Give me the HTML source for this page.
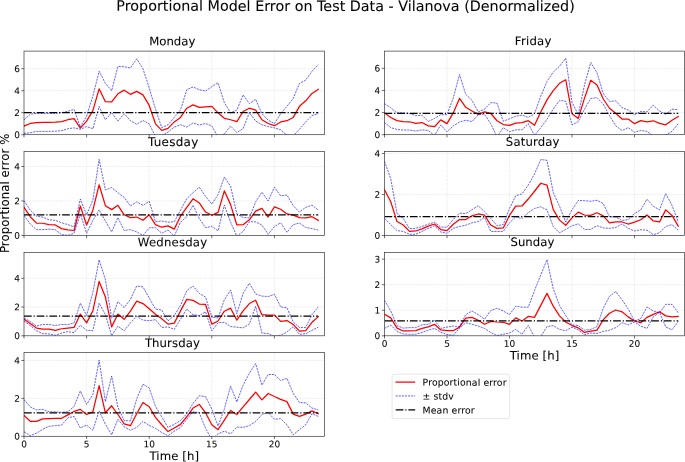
<!DOCTYPE html>
<html lang="en"><head><meta charset="utf-8"><title>Proportional Model Error on Test Data - Vilanova (Denormalized)</title>
<style>html,body{margin:0;padding:0;background:#fff;}svg{display:block}svg text{stroke:#000;stroke-width:0.1px;stroke-opacity:0.6}</style></head>
<body>
<svg width="685" height="462" viewBox="0 0 685 462" font-family="'DejaVu Sans', 'Liberation Sans', sans-serif" fill="#000">
<rect width="685" height="462" fill="#fff" stroke="none"/>
<text transform="matrix(1 0.0006 0 1 345.55 10.95)" font-size="14.3" text-anchor="middle" textLength="458.40" lengthAdjust="spacing">Proportional Model Error on Test Data - Vilanova (Denormalized)</text>
<g>
<clipPath id="c1"><rect x="24.0" y="51.1" width="300.5" height="83.60"/></clipPath>
<line x1="86.60" x2="86.60" y1="51.1" y2="134.7" stroke="#b0b0b0" stroke-opacity="0.42" stroke-width="0.45" stroke-dasharray="2.9 0.55 0.5 0.55"/>
<line x1="149.21" x2="149.21" y1="51.1" y2="134.7" stroke="#b0b0b0" stroke-opacity="0.42" stroke-width="0.45" stroke-dasharray="2.9 0.55 0.5 0.55"/>
<line x1="211.81" x2="211.81" y1="51.1" y2="134.7" stroke="#b0b0b0" stroke-opacity="0.42" stroke-width="0.45" stroke-dasharray="2.9 0.55 0.5 0.55"/>
<line x1="274.42" x2="274.42" y1="51.1" y2="134.7" stroke="#b0b0b0" stroke-opacity="0.42" stroke-width="0.45" stroke-dasharray="2.9 0.55 0.5 0.55"/>
<line x1="24.0" x2="324.5" y1="112.70" y2="112.70" stroke="#b0b0b0" stroke-opacity="0.42" stroke-width="0.45" stroke-dasharray="2.9 0.55 0.5 0.55"/>
<line x1="24.0" x2="324.5" y1="90.70" y2="90.70" stroke="#b0b0b0" stroke-opacity="0.42" stroke-width="0.45" stroke-dasharray="2.9 0.55 0.5 0.55"/>
<line x1="24.0" x2="324.5" y1="68.70" y2="68.70" stroke="#b0b0b0" stroke-opacity="0.42" stroke-width="0.45" stroke-dasharray="2.9 0.55 0.5 0.55"/>
<g clip-path="url(#c1)" fill="none" stroke-linejoin="round">
<polyline points="24.00,126.01 30.26,123.48 36.52,122.60 42.78,122.38 49.04,122.38 55.30,122.16 61.56,121.61 67.82,119.74 74.08,118.64 80.34,128.21 86.60,121.06 92.86,110.61 99.12,88.83 105.39,101.70 111.65,101.92 117.91,93.78 124.17,90.15 130.43,94.33 136.69,91.36 142.95,94.88 149.21,105.44 155.47,123.81 161.73,130.41 167.99,128.43 174.25,121.94 180.51,117.43 186.77,108.19 193.03,104.89 199.29,107.42 205.55,106.87 211.81,106.32 218.07,112.81 224.33,118.31 230.59,119.74 236.85,121.61 243.11,111.49 249.38,108.19 255.64,110.06 261.90,119.74 268.16,123.48 274.42,125.68 280.68,121.94 286.94,120.73 293.20,117.43 299.46,106.32 305.72,100.82 311.98,93.45 318.24,89.38" stroke="#ff0000" stroke-width="1.25" stroke-linecap="square"/>
<polyline points="24.00,119.74 30.26,114.24 36.52,113.36 42.78,113.36 49.04,113.36 55.30,113.36 61.56,112.70 67.82,111.27 74.08,109.40 80.34,127.11 86.60,116.11 92.86,96.20 99.12,71.23 105.39,83.33 111.65,90.70 117.91,66.39 124.17,66.72 130.43,68.04 136.69,58.80 142.95,68.70 149.21,87.95 155.47,109.07 161.73,127.55 167.99,124.80 174.25,117.43 180.51,110.06 186.77,89.71 193.03,86.96 199.29,89.71 205.55,91.03 211.81,86.63 218.07,82.78 224.33,102.69 230.59,112.81 236.85,110.06 243.11,94.88 249.38,103.57 255.64,99.28 261.90,113.69 268.16,120.18 274.42,123.48 280.68,113.69 286.94,106.32 293.20,98.40 299.46,83.44 305.72,80.14 311.98,71.34 318.24,64.52" stroke="#0000ff" stroke-width="0.62" stroke-dasharray="2.15 0.95"/>
<polyline points="24.00,133.38 30.26,132.72 36.52,131.40 42.78,131.40 49.04,131.40 55.30,131.18 61.56,130.63 67.82,128.76 74.08,127.88 80.34,129.31 86.60,126.56 92.86,128.76 99.12,106.54 105.39,119.74 111.65,112.70 117.91,121.06 124.17,113.80 130.43,120.73 136.69,124.25 142.95,120.51 149.21,123.81 155.47,136.68 161.73,135.80 167.99,132.17 174.25,127.11 180.51,124.80 186.77,127.11 193.03,122.93 199.29,125.13 205.55,123.48 211.81,126.01 218.07,136.90 224.33,133.93 230.59,126.01 236.85,132.72 243.11,128.43 249.38,112.70 255.64,121.06 261.90,124.80 268.16,126.56 274.42,127.88 280.68,129.75 286.94,135.25 293.20,135.80 299.46,129.31 305.72,121.94 311.98,115.56 318.24,113.69" stroke="#0000ff" stroke-width="0.62" stroke-dasharray="2.15 0.95"/>
<line x1="24.00" x2="318.24" y1="112.70" y2="112.70" stroke="#000" stroke-width="1.25" stroke-dasharray="7.7 1.9 1.2 1.9"/>
</g>
<rect x="24.0" y="51.1" width="300.5" height="83.60" fill="none" stroke="#000" stroke-opacity="0.82" stroke-width="0.67"/>
<line x1="21.30" x2="24.0" y1="134.70" y2="134.70" stroke="#000" stroke-opacity="0.85" stroke-width="0.67"/>
<text transform="matrix(1 0.0006 0 1 19.95 137.95)" font-size="8.95" text-anchor="end">0</text>
<line x1="21.30" x2="24.0" y1="112.70" y2="112.70" stroke="#000" stroke-opacity="0.85" stroke-width="0.67"/>
<text transform="matrix(1 0.0006 0 1 19.95 115.95)" font-size="8.95" text-anchor="end">2</text>
<line x1="21.30" x2="24.0" y1="90.70" y2="90.70" stroke="#000" stroke-opacity="0.85" stroke-width="0.67"/>
<text transform="matrix(1 0.0006 0 1 19.95 93.95)" font-size="8.95" text-anchor="end">4</text>
<line x1="21.30" x2="24.0" y1="68.70" y2="68.70" stroke="#000" stroke-opacity="0.85" stroke-width="0.67"/>
<text transform="matrix(1 0.0006 0 1 19.95 71.95)" font-size="8.95" text-anchor="end">6</text>
<line x1="24.00" x2="24.00" y1="134.7" y2="137.40" stroke="#000" stroke-opacity="0.85" stroke-width="0.67"/>
<line x1="86.60" x2="86.60" y1="134.7" y2="137.40" stroke="#000" stroke-opacity="0.85" stroke-width="0.67"/>
<line x1="149.21" x2="149.21" y1="134.7" y2="137.40" stroke="#000" stroke-opacity="0.85" stroke-width="0.67"/>
<line x1="211.81" x2="211.81" y1="134.7" y2="137.40" stroke="#000" stroke-opacity="0.85" stroke-width="0.67"/>
<line x1="274.42" x2="274.42" y1="134.7" y2="137.40" stroke="#000" stroke-opacity="0.85" stroke-width="0.67"/>
<text transform="matrix(1 0.0006 0 1 172.25 45.15)" font-size="11.7" text-anchor="middle">Monday</text>
</g>
<g>
<clipPath id="c2"><rect x="24.0" y="151.5" width="300.5" height="84.00"/></clipPath>
<line x1="86.60" x2="86.60" y1="151.5" y2="235.5" stroke="#b0b0b0" stroke-opacity="0.42" stroke-width="0.45" stroke-dasharray="2.9 0.55 0.5 0.55"/>
<line x1="149.21" x2="149.21" y1="151.5" y2="235.5" stroke="#b0b0b0" stroke-opacity="0.42" stroke-width="0.45" stroke-dasharray="2.9 0.55 0.5 0.55"/>
<line x1="211.81" x2="211.81" y1="151.5" y2="235.5" stroke="#b0b0b0" stroke-opacity="0.42" stroke-width="0.45" stroke-dasharray="2.9 0.55 0.5 0.55"/>
<line x1="274.42" x2="274.42" y1="151.5" y2="235.5" stroke="#b0b0b0" stroke-opacity="0.42" stroke-width="0.45" stroke-dasharray="2.9 0.55 0.5 0.55"/>
<line x1="24.0" x2="324.5" y1="201.00" y2="201.00" stroke="#b0b0b0" stroke-opacity="0.42" stroke-width="0.45" stroke-dasharray="2.9 0.55 0.5 0.55"/>
<line x1="24.0" x2="324.5" y1="166.51" y2="166.51" stroke="#b0b0b0" stroke-opacity="0.42" stroke-width="0.45" stroke-dasharray="2.9 0.55 0.5 0.55"/>
<g clip-path="url(#c2)" fill="none" stroke-linejoin="round">
<polyline points="24.00,207.39 30.26,216.70 36.52,223.08 42.78,223.25 49.04,224.63 55.30,224.98 61.56,228.60 67.82,229.81 74.08,230.50 80.34,206.01 86.60,224.98 92.86,210.14 99.12,184.79 105.39,205.66 111.65,209.63 117.91,205.32 124.17,214.80 130.43,217.56 136.69,217.04 142.95,220.32 149.21,214.80 155.47,224.63 161.73,227.22 167.99,225.84 174.25,229.12 180.51,216.18 186.77,207.39 193.03,198.76 199.29,202.90 205.55,212.04 211.81,215.32 218.07,212.39 224.33,190.83 230.59,204.63 236.85,224.98 243.11,224.63 249.38,219.80 255.64,211.18 261.90,208.42 268.16,217.04 274.42,206.87 280.68,209.28 286.94,213.94 293.20,215.15 299.46,217.56 305.72,217.91 311.98,216.70 318.24,220.32" stroke="#ff0000" stroke-width="1.25" stroke-linecap="square"/>
<polyline points="24.00,200.66 30.26,210.14 36.52,216.18 42.78,217.22 49.04,219.80 55.30,220.32 61.56,222.74 67.82,224.63 74.08,226.88 80.34,199.11 86.60,214.80 92.86,200.14 99.12,159.43 105.39,189.96 111.65,187.55 117.91,192.72 124.17,197.38 130.43,206.01 136.69,201.87 142.95,205.32 149.21,201.35 155.47,221.70 161.73,221.01 167.99,222.22 174.25,221.70 180.51,210.14 186.77,198.76 193.03,192.72 199.29,187.20 205.55,196.35 211.81,204.11 218.07,194.62 224.33,177.03 230.59,186.17 236.85,213.94 243.11,217.56 249.38,217.91 255.64,201.87 261.90,192.21 268.16,201.00 274.42,187.20 280.68,195.83 286.94,194.97 293.20,205.66 299.46,212.04 305.72,207.39 311.98,205.14 318.24,210.14" stroke="#0000ff" stroke-width="0.62" stroke-dasharray="2.15 0.95"/>
<polyline points="24.00,215.32 30.26,224.12 36.52,229.64 42.78,229.64 49.04,229.12 55.30,229.64 61.56,234.64 67.82,235.33 74.08,233.26 80.34,213.94 86.60,233.26 92.86,220.32 99.12,209.80 105.39,221.01 111.65,231.88 117.91,217.56 124.17,230.50 130.43,229.64 136.69,231.88 142.95,235.50 149.21,227.74 155.47,227.74 161.73,233.26 167.99,229.98 174.25,236.02 180.51,222.22 186.77,216.70 193.03,205.14 199.29,218.60 205.55,227.74 211.81,226.36 218.07,230.84 224.33,205.14 230.59,222.22 236.85,236.36 243.11,231.36 249.38,221.70 255.64,221.87 261.90,224.98 268.16,234.29 274.42,226.53 280.68,222.74 286.94,232.40 293.20,224.63 299.46,223.08 305.72,227.39 311.98,228.60 318.24,230.15" stroke="#0000ff" stroke-width="0.62" stroke-dasharray="2.15 0.95"/>
<line x1="24.00" x2="318.24" y1="214.80" y2="214.80" stroke="#000" stroke-width="1.25" stroke-dasharray="7.7 1.9 1.2 1.9"/>
</g>
<rect x="24.0" y="151.5" width="300.5" height="84.00" fill="none" stroke="#000" stroke-opacity="0.82" stroke-width="0.67"/>
<line x1="21.30" x2="24.0" y1="235.50" y2="235.50" stroke="#000" stroke-opacity="0.85" stroke-width="0.67"/>
<text transform="matrix(1 0.0006 0 1 19.95 238.75)" font-size="8.95" text-anchor="end">0</text>
<line x1="21.30" x2="24.0" y1="201.00" y2="201.00" stroke="#000" stroke-opacity="0.85" stroke-width="0.67"/>
<text transform="matrix(1 0.0006 0 1 19.95 204.25)" font-size="8.95" text-anchor="end">2</text>
<line x1="21.30" x2="24.0" y1="166.51" y2="166.51" stroke="#000" stroke-opacity="0.85" stroke-width="0.67"/>
<text transform="matrix(1 0.0006 0 1 19.95 169.76)" font-size="8.95" text-anchor="end">4</text>
<line x1="24.00" x2="24.00" y1="235.5" y2="238.20" stroke="#000" stroke-opacity="0.85" stroke-width="0.67"/>
<line x1="86.60" x2="86.60" y1="235.5" y2="238.20" stroke="#000" stroke-opacity="0.85" stroke-width="0.67"/>
<line x1="149.21" x2="149.21" y1="235.5" y2="238.20" stroke="#000" stroke-opacity="0.85" stroke-width="0.67"/>
<line x1="211.81" x2="211.81" y1="235.5" y2="238.20" stroke="#000" stroke-opacity="0.85" stroke-width="0.67"/>
<line x1="274.42" x2="274.42" y1="235.5" y2="238.20" stroke="#000" stroke-opacity="0.85" stroke-width="0.67"/>
<text transform="matrix(1 0.0006 0 1 173.15 145.90)" font-size="12.0" text-anchor="middle" textLength="50.33" lengthAdjust="spacing">Tuesday</text>
</g>
<g>
<clipPath id="c3"><rect x="24.0" y="252.5" width="300.5" height="83.30"/></clipPath>
<line x1="86.60" x2="86.60" y1="252.5" y2="335.8" stroke="#b0b0b0" stroke-opacity="0.42" stroke-width="0.45" stroke-dasharray="2.9 0.55 0.5 0.55"/>
<line x1="149.21" x2="149.21" y1="252.5" y2="335.8" stroke="#b0b0b0" stroke-opacity="0.42" stroke-width="0.45" stroke-dasharray="2.9 0.55 0.5 0.55"/>
<line x1="211.81" x2="211.81" y1="252.5" y2="335.8" stroke="#b0b0b0" stroke-opacity="0.42" stroke-width="0.45" stroke-dasharray="2.9 0.55 0.5 0.55"/>
<line x1="274.42" x2="274.42" y1="252.5" y2="335.8" stroke="#b0b0b0" stroke-opacity="0.42" stroke-width="0.45" stroke-dasharray="2.9 0.55 0.5 0.55"/>
<line x1="24.0" x2="324.5" y1="307.03" y2="307.03" stroke="#b0b0b0" stroke-opacity="0.42" stroke-width="0.45" stroke-dasharray="2.9 0.55 0.5 0.55"/>
<line x1="24.0" x2="324.5" y1="278.25" y2="278.25" stroke="#b0b0b0" stroke-opacity="0.42" stroke-width="0.45" stroke-dasharray="2.9 0.55 0.5 0.55"/>
<g clip-path="url(#c3)" fill="none" stroke-linejoin="round">
<polyline points="24.00,319.26 30.26,323.43 36.52,328.03 42.78,329.04 49.04,329.04 55.30,330.33 61.56,328.75 67.82,328.03 74.08,327.46 80.34,314.08 86.60,322.85 92.86,310.91 99.12,281.42 105.39,297.10 111.65,326.88 117.91,314.08 124.17,319.26 130.43,311.20 136.69,301.13 142.95,303.57 149.21,308.75 155.47,314.22 161.73,318.68 167.99,324.15 174.25,323.14 180.51,310.91 186.77,299.40 193.03,300.41 199.29,304.01 205.55,304.44 211.81,324.15 218.07,320.98 224.33,311.20 230.59,308.18 236.85,320.12 243.11,310.91 249.38,303.57 255.64,300.26 261.90,314.65 268.16,315.08 274.42,315.08 280.68,321.41 286.94,320.55 293.20,324.43 299.46,331.20 305.72,330.62 311.98,322.28 318.24,316.81" stroke="#ff0000" stroke-width="1.25" stroke-linecap="square"/>
<polyline points="24.00,317.96 30.26,321.56 36.52,326.16 42.78,324.43 49.04,324.43 55.30,325.59 61.56,324.43 67.82,324.72 74.08,322.85 80.34,303.14 86.60,315.51 92.86,292.50 99.12,259.84 105.39,279.55 111.65,318.25 117.91,301.70 124.17,307.60 130.43,299.40 136.69,286.02 142.95,286.88 149.21,297.96 155.47,309.04 161.73,310.05 167.99,320.98 174.25,315.51 180.51,305.30 186.77,290.63 193.03,286.02 199.29,293.36 205.55,297.10 211.81,317.38 218.07,317.96 224.33,299.83 230.59,290.05 236.85,313.64 243.11,293.36 249.38,283.29 255.64,293.93 261.90,296.09 268.16,296.52 274.42,294.37 280.68,306.88 286.94,307.75 293.20,321.99 299.46,327.46 305.72,327.46 311.98,314.65 318.24,306.88" stroke="#0000ff" stroke-width="0.62" stroke-dasharray="2.15 0.95"/>
<polyline points="24.00,320.98 30.26,325.59 36.52,330.76 42.78,333.64 49.04,333.93 55.30,335.22 61.56,333.07 67.82,331.63 74.08,332.63 80.34,325.15 86.60,330.33 92.86,330.62 99.12,303.14 105.39,314.65 111.65,335.80 117.91,326.16 124.17,330.76 130.43,322.85 136.69,316.38 142.95,320.12 149.21,320.69 155.47,319.69 161.73,327.46 167.99,326.88 174.25,329.33 180.51,319.26 186.77,309.04 193.03,314.65 199.29,315.51 205.55,311.77 211.81,330.76 218.07,322.85 224.33,322.28 230.59,326.59 236.85,327.17 243.11,327.89 249.38,324.15 255.64,306.31 261.90,333.07 268.16,333.64 274.42,336.23 280.68,335.22 286.94,332.06 293.20,326.59 299.46,334.36 305.72,333.64 311.98,330.33 318.24,327.17" stroke="#0000ff" stroke-width="0.62" stroke-dasharray="2.15 0.95"/>
<line x1="24.00" x2="318.24" y1="316.23" y2="316.23" stroke="#000" stroke-width="1.25" stroke-dasharray="7.7 1.9 1.2 1.9"/>
</g>
<rect x="24.0" y="252.5" width="300.5" height="83.30" fill="none" stroke="#000" stroke-opacity="0.82" stroke-width="0.67"/>
<line x1="21.30" x2="24.0" y1="335.80" y2="335.80" stroke="#000" stroke-opacity="0.85" stroke-width="0.67"/>
<text transform="matrix(1 0.0006 0 1 19.95 339.05)" font-size="8.95" text-anchor="end">0</text>
<line x1="21.30" x2="24.0" y1="307.03" y2="307.03" stroke="#000" stroke-opacity="0.85" stroke-width="0.67"/>
<text transform="matrix(1 0.0006 0 1 19.95 310.28)" font-size="8.95" text-anchor="end">2</text>
<line x1="21.30" x2="24.0" y1="278.25" y2="278.25" stroke="#000" stroke-opacity="0.85" stroke-width="0.67"/>
<text transform="matrix(1 0.0006 0 1 19.95 281.50)" font-size="8.95" text-anchor="end">4</text>
<line x1="24.00" x2="24.00" y1="335.8" y2="338.50" stroke="#000" stroke-opacity="0.85" stroke-width="0.67"/>
<line x1="86.60" x2="86.60" y1="335.8" y2="338.50" stroke="#000" stroke-opacity="0.85" stroke-width="0.67"/>
<line x1="149.21" x2="149.21" y1="335.8" y2="338.50" stroke="#000" stroke-opacity="0.85" stroke-width="0.67"/>
<line x1="211.81" x2="211.81" y1="335.8" y2="338.50" stroke="#000" stroke-opacity="0.85" stroke-width="0.67"/>
<line x1="274.42" x2="274.42" y1="335.8" y2="338.50" stroke="#000" stroke-opacity="0.85" stroke-width="0.67"/>
<text transform="matrix(1 0.0006 0 1 172.45 246.30)" font-size="11.7" text-anchor="middle" textLength="69.27" lengthAdjust="spacing">Wednesday</text>
</g>
<g>
<clipPath id="c4"><rect x="24.0" y="352.5" width="300.5" height="83.80"/></clipPath>
<line x1="86.60" x2="86.60" y1="352.5" y2="436.3" stroke="#b0b0b0" stroke-opacity="0.42" stroke-width="0.45" stroke-dasharray="2.9 0.55 0.5 0.55"/>
<line x1="149.21" x2="149.21" y1="352.5" y2="436.3" stroke="#b0b0b0" stroke-opacity="0.42" stroke-width="0.45" stroke-dasharray="2.9 0.55 0.5 0.55"/>
<line x1="211.81" x2="211.81" y1="352.5" y2="436.3" stroke="#b0b0b0" stroke-opacity="0.42" stroke-width="0.45" stroke-dasharray="2.9 0.55 0.5 0.55"/>
<line x1="274.42" x2="274.42" y1="352.5" y2="436.3" stroke="#b0b0b0" stroke-opacity="0.42" stroke-width="0.45" stroke-dasharray="2.9 0.55 0.5 0.55"/>
<line x1="24.0" x2="324.5" y1="398.38" y2="398.38" stroke="#b0b0b0" stroke-opacity="0.42" stroke-width="0.45" stroke-dasharray="2.9 0.55 0.5 0.55"/>
<line x1="24.0" x2="324.5" y1="360.46" y2="360.46" stroke="#b0b0b0" stroke-opacity="0.42" stroke-width="0.45" stroke-dasharray="2.9 0.55 0.5 0.55"/>
<g clip-path="url(#c4)" fill="none" stroke-linejoin="round">
<polyline points="24.00,415.44 30.26,421.32 36.52,421.32 42.78,418.86 49.04,418.67 55.30,418.48 61.56,418.29 67.82,414.88 74.08,411.46 80.34,409.38 86.60,414.50 92.86,411.84 99.12,385.68 105.39,412.79 111.65,405.78 117.91,414.50 124.17,423.79 130.43,425.68 136.69,413.74 142.95,402.55 149.21,406.72 155.47,417.34 161.73,424.73 167.99,431.56 174.25,427.96 180.51,424.36 186.77,416.77 193.03,408.05 199.29,404.45 205.55,412.79 211.81,424.73 218.07,429.66 224.33,420.18 230.59,410.52 236.85,414.50 243.11,406.91 249.38,399.52 255.64,392.12 261.90,399.90 268.16,393.45 274.42,396.49 280.68,399.33 286.94,401.60 293.20,414.12 299.46,416.39 305.72,414.12 311.98,410.89 318.24,413.74" stroke="#ff0000" stroke-width="1.25" stroke-linecap="square"/>
<polyline points="24.00,399.52 30.26,406.91 36.52,409.95 42.78,409.38 49.04,411.84 55.30,411.84 61.56,412.41 67.82,411.84 74.08,406.34 80.34,390.99 86.60,404.45 92.86,394.40 99.12,360.27 105.39,401.60 111.65,376.01 117.91,407.29 124.17,420.56 130.43,420.94 136.69,398.95 142.95,384.16 149.21,387.95 155.47,406.34 161.73,416.77 167.99,427.39 174.25,424.36 180.51,420.56 186.77,413.74 193.03,403.50 199.29,395.73 205.55,396.68 211.81,409.00 218.07,426.06 224.33,409.00 230.59,386.06 236.85,401.98 243.11,385.11 249.38,373.17 255.64,363.50 261.90,385.11 268.16,374.49 274.42,374.49 280.68,380.56 286.94,378.28 293.20,393.45 299.46,402.55 305.72,402.93 311.98,408.05 318.24,409.95" stroke="#0000ff" stroke-width="0.62" stroke-dasharray="2.15 0.95"/>
<polyline points="24.00,431.75 30.26,435.73 36.52,433.08 42.78,429.29 49.04,426.25 55.30,425.68 61.56,425.11 67.82,417.91 74.08,416.39 80.34,427.96 86.60,425.11 92.86,430.23 99.12,410.89 105.39,424.17 111.65,434.78 117.91,419.24 124.17,426.82 130.43,430.23 136.69,427.39 142.95,421.51 149.21,425.30 155.47,428.34 161.73,432.51 167.99,435.73 174.25,431.18 180.51,427.39 186.77,419.24 193.03,411.84 199.29,412.79 205.55,428.34 211.81,439.52 218.07,433.84 224.33,431.18 230.59,433.84 236.85,427.01 243.11,427.39 249.38,425.68 255.64,421.51 261.90,414.50 268.16,412.41 274.42,419.24 280.68,418.67 286.94,424.73 293.20,434.78 299.46,429.66 305.72,424.73 311.98,413.74 318.24,416.39" stroke="#0000ff" stroke-width="0.62" stroke-dasharray="2.15 0.95"/>
<line x1="24.00" x2="318.24" y1="412.79" y2="412.79" stroke="#000" stroke-width="1.25" stroke-dasharray="7.7 1.9 1.2 1.9"/>
</g>
<rect x="24.0" y="352.5" width="300.5" height="83.80" fill="none" stroke="#000" stroke-opacity="0.82" stroke-width="0.67"/>
<line x1="21.30" x2="24.0" y1="436.30" y2="436.30" stroke="#000" stroke-opacity="0.85" stroke-width="0.67"/>
<text transform="matrix(1 0.0006 0 1 19.95 439.55)" font-size="8.95" text-anchor="end">0</text>
<line x1="21.30" x2="24.0" y1="398.38" y2="398.38" stroke="#000" stroke-opacity="0.85" stroke-width="0.67"/>
<text transform="matrix(1 0.0006 0 1 19.95 401.63)" font-size="8.95" text-anchor="end">2</text>
<line x1="21.30" x2="24.0" y1="360.46" y2="360.46" stroke="#000" stroke-opacity="0.85" stroke-width="0.67"/>
<text transform="matrix(1 0.0006 0 1 19.95 363.71)" font-size="8.95" text-anchor="end">4</text>
<line x1="24.00" x2="24.00" y1="436.3" y2="439.00" stroke="#000" stroke-opacity="0.85" stroke-width="0.67"/>
<line x1="86.60" x2="86.60" y1="436.3" y2="439.00" stroke="#000" stroke-opacity="0.85" stroke-width="0.67"/>
<line x1="149.21" x2="149.21" y1="436.3" y2="439.00" stroke="#000" stroke-opacity="0.85" stroke-width="0.67"/>
<line x1="211.81" x2="211.81" y1="436.3" y2="439.00" stroke="#000" stroke-opacity="0.85" stroke-width="0.67"/>
<line x1="274.42" x2="274.42" y1="436.3" y2="439.00" stroke="#000" stroke-opacity="0.85" stroke-width="0.67"/>
<text transform="matrix(1 0.0006 0 1 24.00 447.25)" font-size="8.95" text-anchor="middle">0</text>
<text transform="matrix(1 0.0006 0 1 86.60 447.25)" font-size="8.95" text-anchor="middle">5</text>
<text transform="matrix(1 0.0006 0 1 149.21 447.25)" font-size="8.95" text-anchor="middle">10</text>
<text transform="matrix(1 0.0006 0 1 211.81 447.25)" font-size="8.95" text-anchor="middle">15</text>
<text transform="matrix(1 0.0006 0 1 274.42 447.25)" font-size="8.95" text-anchor="middle">20</text>
<text transform="matrix(1 0.0006 0 1 174.25 460.05)" font-size="11.7" text-anchor="middle" textLength="49.66" lengthAdjust="spacing">Time [h]</text>
<text transform="matrix(1 0.0006 0 1 172.35 346.95)" font-size="11.7" text-anchor="middle" textLength="54.96" lengthAdjust="spacing">Thursday</text>
</g>
<g>
<clipPath id="c5"><rect x="384.5" y="51.1" width="300.0" height="83.60"/></clipPath>
<line x1="447.00" x2="447.00" y1="51.1" y2="134.7" stroke="#b0b0b0" stroke-opacity="0.42" stroke-width="0.45" stroke-dasharray="2.9 0.55 0.5 0.55"/>
<line x1="509.50" x2="509.50" y1="51.1" y2="134.7" stroke="#b0b0b0" stroke-opacity="0.42" stroke-width="0.45" stroke-dasharray="2.9 0.55 0.5 0.55"/>
<line x1="572.00" x2="572.00" y1="51.1" y2="134.7" stroke="#b0b0b0" stroke-opacity="0.42" stroke-width="0.45" stroke-dasharray="2.9 0.55 0.5 0.55"/>
<line x1="634.50" x2="634.50" y1="51.1" y2="134.7" stroke="#b0b0b0" stroke-opacity="0.42" stroke-width="0.45" stroke-dasharray="2.9 0.55 0.5 0.55"/>
<line x1="384.5" x2="684.5" y1="112.58" y2="112.58" stroke="#b0b0b0" stroke-opacity="0.42" stroke-width="0.45" stroke-dasharray="2.9 0.55 0.5 0.55"/>
<line x1="384.5" x2="684.5" y1="90.47" y2="90.47" stroke="#b0b0b0" stroke-opacity="0.42" stroke-width="0.45" stroke-dasharray="2.9 0.55 0.5 0.55"/>
<line x1="384.5" x2="684.5" y1="68.35" y2="68.35" stroke="#b0b0b0" stroke-opacity="0.42" stroke-width="0.45" stroke-dasharray="2.9 0.55 0.5 0.55"/>
<g clip-path="url(#c5)" fill="none" stroke-linejoin="round">
<polyline points="384.50,112.92 390.75,117.45 397.00,120.66 403.25,121.54 409.50,121.76 415.75,123.42 422.00,122.54 428.25,125.85 434.50,126.74 440.75,119.88 447.00,123.64 453.25,112.92 459.50,98.43 465.75,107.28 472.00,111.04 478.25,114.35 484.50,111.92 490.75,113.47 497.00,120.77 503.25,124.53 509.50,125.30 515.75,123.09 522.00,122.65 528.25,120.66 534.50,125.30 540.75,111.92 547.00,99.87 553.25,90.69 559.50,83.28 565.75,79.74 572.00,113.80 578.25,118.44 584.50,98.10 590.75,80.29 597.00,85.05 603.25,98.98 609.50,108.27 615.75,113.25 622.00,119.00 628.25,119.00 634.50,123.64 640.75,120.66 647.00,121.76 653.25,120.77 659.50,123.42 665.75,124.86 672.00,120.21 678.25,116.56" stroke="#ff0000" stroke-width="1.25" stroke-linecap="square"/>
<polyline points="384.50,103.63 390.75,107.72 397.00,112.92 403.25,112.92 409.50,113.47 415.75,115.68 422.00,115.24 428.25,121.54 434.50,118.44 440.75,114.68 447.00,114.68 453.25,98.10 459.50,74.54 465.75,94.34 472.00,100.31 478.25,111.92 484.50,109.16 490.75,102.63 497.00,103.07 503.25,121.21 509.50,118.78 515.75,116.23 522.00,115.13 528.25,117.45 534.50,113.80 540.75,96.22 547.00,81.40 553.25,72.11 559.50,66.25 565.75,58.29 572.00,102.30 578.25,114.68 584.50,85.05 590.75,62.49 597.00,72.77 603.25,93.45 609.50,101.41 615.75,100.86 622.00,107.72 628.25,110.04 634.50,114.68 640.75,111.37 647.00,111.92 653.25,105.06 659.50,111.04 665.75,114.35 672.00,109.16 678.25,109.71" stroke="#0000ff" stroke-width="0.62" stroke-dasharray="2.15 0.95"/>
<polyline points="384.50,122.54 390.75,127.62 397.00,129.50 403.25,130.06 409.50,130.06 415.75,131.05 422.00,129.83 428.25,130.50 434.50,135.47 440.75,124.86 447.00,131.94 453.25,125.85 459.50,122.09 465.75,120.21 472.00,121.54 478.25,114.68 484.50,114.13 490.75,123.64 497.00,136.91 503.25,127.62 509.50,131.71 515.75,129.83 522.00,129.83 528.25,123.64 534.50,135.47 540.75,127.62 547.00,119.33 553.25,109.16 559.50,100.42 565.75,101.19 572.00,124.86 578.25,121.76 584.50,109.16 590.75,98.43 597.00,97.66 603.25,104.07 609.50,115.68 615.75,125.85 622.00,130.50 628.25,127.62 634.50,132.27 640.75,130.50 647.00,131.38 653.25,136.03 659.50,136.91 665.75,135.03 672.00,131.38 678.25,123.64" stroke="#0000ff" stroke-width="0.62" stroke-dasharray="2.15 0.95"/>
<line x1="384.50" x2="678.25" y1="113.36" y2="113.36" stroke="#000" stroke-width="1.25" stroke-dasharray="7.7 1.9 1.2 1.9"/>
</g>
<rect x="384.5" y="51.1" width="300.0" height="83.60" fill="none" stroke="#000" stroke-opacity="0.82" stroke-width="0.67"/>
<line x1="381.80" x2="384.5" y1="134.70" y2="134.70" stroke="#000" stroke-opacity="0.85" stroke-width="0.67"/>
<text transform="matrix(1 0.0006 0 1 380.30 137.95)" font-size="8.95" text-anchor="end">0</text>
<line x1="381.80" x2="384.5" y1="112.58" y2="112.58" stroke="#000" stroke-opacity="0.85" stroke-width="0.67"/>
<text transform="matrix(1 0.0006 0 1 380.30 115.83)" font-size="8.95" text-anchor="end">2</text>
<line x1="381.80" x2="384.5" y1="90.47" y2="90.47" stroke="#000" stroke-opacity="0.85" stroke-width="0.67"/>
<text transform="matrix(1 0.0006 0 1 380.30 93.72)" font-size="8.95" text-anchor="end">4</text>
<line x1="381.80" x2="384.5" y1="68.35" y2="68.35" stroke="#000" stroke-opacity="0.85" stroke-width="0.67"/>
<text transform="matrix(1 0.0006 0 1 380.30 71.60)" font-size="8.95" text-anchor="end">6</text>
<line x1="384.50" x2="384.50" y1="134.7" y2="137.40" stroke="#000" stroke-opacity="0.85" stroke-width="0.67"/>
<line x1="447.00" x2="447.00" y1="134.7" y2="137.40" stroke="#000" stroke-opacity="0.85" stroke-width="0.67"/>
<line x1="509.50" x2="509.50" y1="134.7" y2="137.40" stroke="#000" stroke-opacity="0.85" stroke-width="0.67"/>
<line x1="572.00" x2="572.00" y1="134.7" y2="137.40" stroke="#000" stroke-opacity="0.85" stroke-width="0.67"/>
<line x1="634.50" x2="634.50" y1="134.7" y2="137.40" stroke="#000" stroke-opacity="0.85" stroke-width="0.67"/>
<text transform="matrix(1 0.0006 0 1 533.10 45.05)" font-size="11.7" text-anchor="middle" textLength="36.62" lengthAdjust="spacing">Friday</text>
</g>
<g>
<clipPath id="c6"><rect x="384.5" y="151.5" width="300.0" height="84.00"/></clipPath>
<line x1="447.00" x2="447.00" y1="151.5" y2="235.5" stroke="#b0b0b0" stroke-opacity="0.42" stroke-width="0.45" stroke-dasharray="2.9 0.55 0.5 0.55"/>
<line x1="509.50" x2="509.50" y1="151.5" y2="235.5" stroke="#b0b0b0" stroke-opacity="0.42" stroke-width="0.45" stroke-dasharray="2.9 0.55 0.5 0.55"/>
<line x1="572.00" x2="572.00" y1="151.5" y2="235.5" stroke="#b0b0b0" stroke-opacity="0.42" stroke-width="0.45" stroke-dasharray="2.9 0.55 0.5 0.55"/>
<line x1="634.50" x2="634.50" y1="151.5" y2="235.5" stroke="#b0b0b0" stroke-opacity="0.42" stroke-width="0.45" stroke-dasharray="2.9 0.55 0.5 0.55"/>
<line x1="384.5" x2="684.5" y1="194.52" y2="194.52" stroke="#b0b0b0" stroke-opacity="0.42" stroke-width="0.45" stroke-dasharray="2.9 0.55 0.5 0.55"/>
<line x1="384.5" x2="684.5" y1="153.55" y2="153.55" stroke="#b0b0b0" stroke-opacity="0.42" stroke-width="0.45" stroke-dasharray="2.9 0.55 0.5 0.55"/>
<g clip-path="url(#c6)" fill="none" stroke-linejoin="round">
<polyline points="384.50,189.81 390.75,201.70 397.00,221.57 403.25,225.05 409.50,231.40 415.75,230.99 422.00,228.94 428.25,226.08 434.50,224.03 440.75,229.56 447.00,230.58 453.25,224.23 459.50,219.52 465.75,219.52 472.00,215.83 478.25,213.99 484.50,215.01 490.75,225.05 497.00,228.33 503.25,227.92 509.50,215.42 515.75,206.20 522.00,206.00 528.25,199.03 534.50,191.25 540.75,183.26 547.00,185.10 553.25,209.69 559.50,220.13 565.75,225.26 572.00,217.88 578.25,212.14 584.50,215.01 590.75,215.42 597.00,212.76 603.25,215.83 609.50,222.80 615.75,221.98 622.00,221.98 628.25,224.03 634.50,222.18 640.75,219.72 647.00,215.01 653.25,220.95 659.50,221.98 665.75,209.89 672.00,215.42 678.25,226.08" stroke="#ff0000" stroke-width="1.25" stroke-linecap="square"/>
<polyline points="384.50,161.33 390.75,178.75 397.00,213.58 403.25,218.29 409.50,228.74 415.75,228.33 422.00,226.49 428.25,224.23 434.50,222.18 440.75,227.10 447.00,227.10 453.25,219.52 459.50,213.17 465.75,213.58 472.00,209.69 478.25,205.79 484.50,211.73 490.75,218.29 497.00,225.67 503.25,224.64 509.50,208.46 515.75,195.75 522.00,193.91 528.25,185.10 534.50,174.04 540.75,159.49 547.00,160.31 553.25,192.48 559.50,206.20 565.75,221.98 572.00,209.69 578.25,200.47 584.50,200.67 590.75,201.29 597.00,200.26 603.25,203.54 609.50,216.86 615.75,216.86 622.00,220.54 628.25,219.52 634.50,213.58 640.75,209.89 647.00,199.24 653.25,206.20 659.50,209.89 665.75,193.50 672.00,205.38 678.25,221.98" stroke="#0000ff" stroke-width="0.62" stroke-dasharray="2.15 0.95"/>
<polyline points="384.50,218.29 390.75,224.64 397.00,230.58 403.25,231.40 409.50,234.27 415.75,234.27 422.00,231.40 428.25,228.33 434.50,225.87 440.75,232.02 447.00,233.25 453.25,228.33 459.50,226.49 465.75,225.26 472.00,222.80 478.25,221.57 484.50,217.27 490.75,231.40 497.00,231.61 503.25,231.40 509.50,222.80 515.75,216.86 522.00,218.50 528.25,212.76 534.50,208.46 540.75,206.82 547.00,209.89 553.25,226.49 559.50,232.84 565.75,229.35 572.00,225.87 578.25,223.82 584.50,229.56 590.75,229.35 597.00,225.67 603.25,227.92 609.50,228.33 615.75,227.51 622.00,224.03 628.25,228.33 634.50,230.99 640.75,229.76 647.00,230.17 653.25,234.68 659.50,232.84 665.75,226.49 672.00,224.64 678.25,230.17" stroke="#0000ff" stroke-width="0.62" stroke-dasharray="2.15 0.95"/>
<line x1="384.50" x2="678.25" y1="216.65" y2="216.65" stroke="#000" stroke-width="1.25" stroke-dasharray="7.7 1.9 1.2 1.9"/>
</g>
<rect x="384.5" y="151.5" width="300.0" height="84.00" fill="none" stroke="#000" stroke-opacity="0.82" stroke-width="0.67"/>
<line x1="381.80" x2="384.5" y1="235.50" y2="235.50" stroke="#000" stroke-opacity="0.85" stroke-width="0.67"/>
<text transform="matrix(1 0.0006 0 1 380.30 238.75)" font-size="8.95" text-anchor="end">0</text>
<line x1="381.80" x2="384.5" y1="194.52" y2="194.52" stroke="#000" stroke-opacity="0.85" stroke-width="0.67"/>
<text transform="matrix(1 0.0006 0 1 380.30 197.77)" font-size="8.95" text-anchor="end">2</text>
<line x1="381.80" x2="384.5" y1="153.55" y2="153.55" stroke="#000" stroke-opacity="0.85" stroke-width="0.67"/>
<text transform="matrix(1 0.0006 0 1 380.30 156.80)" font-size="8.95" text-anchor="end">4</text>
<line x1="384.50" x2="384.50" y1="235.5" y2="238.20" stroke="#000" stroke-opacity="0.85" stroke-width="0.67"/>
<line x1="447.00" x2="447.00" y1="235.5" y2="238.20" stroke="#000" stroke-opacity="0.85" stroke-width="0.67"/>
<line x1="509.50" x2="509.50" y1="235.5" y2="238.20" stroke="#000" stroke-opacity="0.85" stroke-width="0.67"/>
<line x1="572.00" x2="572.00" y1="235.5" y2="238.20" stroke="#000" stroke-opacity="0.85" stroke-width="0.67"/>
<line x1="634.50" x2="634.50" y1="235.5" y2="238.20" stroke="#000" stroke-opacity="0.85" stroke-width="0.67"/>
<text transform="matrix(1 0.0006 0 1 532.65 145.80)" font-size="11.7" text-anchor="middle" textLength="53.67" lengthAdjust="spacing">Saturday</text>
</g>
<g>
<clipPath id="c7"><rect x="384.5" y="252.5" width="300.0" height="83.30"/></clipPath>
<line x1="447.00" x2="447.00" y1="252.5" y2="335.8" stroke="#b0b0b0" stroke-opacity="0.42" stroke-width="0.45" stroke-dasharray="2.9 0.55 0.5 0.55"/>
<line x1="509.50" x2="509.50" y1="252.5" y2="335.8" stroke="#b0b0b0" stroke-opacity="0.42" stroke-width="0.45" stroke-dasharray="2.9 0.55 0.5 0.55"/>
<line x1="572.00" x2="572.00" y1="252.5" y2="335.8" stroke="#b0b0b0" stroke-opacity="0.42" stroke-width="0.45" stroke-dasharray="2.9 0.55 0.5 0.55"/>
<line x1="634.50" x2="634.50" y1="252.5" y2="335.8" stroke="#b0b0b0" stroke-opacity="0.42" stroke-width="0.45" stroke-dasharray="2.9 0.55 0.5 0.55"/>
<line x1="384.5" x2="684.5" y1="310.25" y2="310.25" stroke="#b0b0b0" stroke-opacity="0.42" stroke-width="0.45" stroke-dasharray="2.9 0.55 0.5 0.55"/>
<line x1="384.5" x2="684.5" y1="284.70" y2="284.70" stroke="#b0b0b0" stroke-opacity="0.42" stroke-width="0.45" stroke-dasharray="2.9 0.55 0.5 0.55"/>
<line x1="384.5" x2="684.5" y1="259.14" y2="259.14" stroke="#b0b0b0" stroke-opacity="0.42" stroke-width="0.45" stroke-dasharray="2.9 0.55 0.5 0.55"/>
<g clip-path="url(#c7)" fill="none" stroke-linejoin="round">
<polyline points="384.50,314.34 390.75,317.91 397.00,328.13 403.25,330.95 409.50,330.95 415.75,330.69 422.00,328.39 428.25,326.86 434.50,324.30 440.75,329.92 447.00,330.69 453.25,330.69 459.50,327.11 465.75,318.17 472.00,317.40 478.25,320.21 484.50,324.30 490.75,321.49 497.00,322.00 503.25,322.26 509.50,324.30 515.75,317.91 522.00,320.98 528.25,316.38 534.50,317.40 540.75,305.39 547.00,293.38 553.25,306.16 559.50,315.87 565.75,322.00 572.00,325.58 578.25,327.88 584.50,332.48 590.75,331.20 597.00,330.18 603.25,319.70 609.50,313.31 615.75,309.99 622.00,311.78 628.25,316.89 634.50,320.98 640.75,322.77 647.00,317.40 653.25,314.34 659.50,311.78 665.75,315.87 672.00,316.89 678.25,316.38" stroke="#ff0000" stroke-width="1.25" stroke-linecap="square"/>
<polyline points="384.50,300.28 390.75,311.01 397.00,325.58 403.25,328.13 409.50,327.62 415.75,327.62 422.00,324.81 428.25,324.30 434.50,320.21 440.75,328.39 447.00,327.11 453.25,326.09 459.50,326.60 465.75,314.59 472.00,311.01 478.25,314.59 484.50,319.19 490.75,310.50 497.00,308.20 503.25,311.01 509.50,314.59 515.75,306.16 522.00,307.18 528.25,307.18 534.50,290.57 540.75,274.99 547.00,259.65 553.25,288.78 559.50,305.39 565.75,315.61 572.00,324.81 578.25,325.58 584.50,330.18 590.75,329.41 597.00,326.60 603.25,308.20 609.50,296.19 615.75,291.59 622.00,299.77 628.25,308.97 634.50,320.98 640.75,318.68 647.00,306.93 653.25,311.01 659.50,312.80 665.75,304.37 672.00,304.37 678.25,312.80" stroke="#0000ff" stroke-width="0.62" stroke-dasharray="2.15 0.95"/>
<polyline points="384.50,328.39 390.75,325.07 397.00,331.46 403.25,334.01 409.50,334.27 415.75,334.27 422.00,332.48 428.25,330.18 434.50,328.39 440.75,332.22 447.00,334.52 453.25,335.29 459.50,328.13 465.75,322.77 472.00,324.30 478.25,326.09 484.50,328.39 490.75,332.48 497.00,335.54 503.25,334.27 509.50,332.99 515.75,329.41 522.00,334.27 528.25,325.32 534.50,336.82 540.75,336.82 547.00,326.60 553.25,325.58 559.50,329.41 565.75,330.69 572.00,327.11 578.25,329.92 584.50,334.78 590.75,332.99 597.00,333.50 603.25,331.46 609.50,330.18 615.75,327.62 622.00,322.77 628.25,324.81 634.50,322.00 640.75,326.09 647.00,328.39 653.25,316.89 659.50,312.29 665.75,327.11 672.00,329.67 678.25,321.49" stroke="#0000ff" stroke-width="0.62" stroke-dasharray="2.15 0.95"/>
<line x1="384.50" x2="678.25" y1="320.85" y2="320.85" stroke="#000" stroke-width="1.25" stroke-dasharray="7.7 1.9 1.2 1.9"/>
</g>
<rect x="384.5" y="252.5" width="300.0" height="83.30" fill="none" stroke="#000" stroke-opacity="0.82" stroke-width="0.67"/>
<line x1="381.80" x2="384.5" y1="335.80" y2="335.80" stroke="#000" stroke-opacity="0.85" stroke-width="0.67"/>
<text transform="matrix(1 0.0006 0 1 380.30 339.05)" font-size="8.95" text-anchor="end">0</text>
<line x1="381.80" x2="384.5" y1="310.25" y2="310.25" stroke="#000" stroke-opacity="0.85" stroke-width="0.67"/>
<text transform="matrix(1 0.0006 0 1 380.30 313.50)" font-size="8.95" text-anchor="end">1</text>
<line x1="381.80" x2="384.5" y1="284.70" y2="284.70" stroke="#000" stroke-opacity="0.85" stroke-width="0.67"/>
<text transform="matrix(1 0.0006 0 1 380.30 287.95)" font-size="8.95" text-anchor="end">2</text>
<line x1="381.80" x2="384.5" y1="259.14" y2="259.14" stroke="#000" stroke-opacity="0.85" stroke-width="0.67"/>
<text transform="matrix(1 0.0006 0 1 380.30 262.39)" font-size="8.95" text-anchor="end">3</text>
<line x1="384.50" x2="384.50" y1="335.8" y2="338.50" stroke="#000" stroke-opacity="0.85" stroke-width="0.67"/>
<line x1="447.00" x2="447.00" y1="335.8" y2="338.50" stroke="#000" stroke-opacity="0.85" stroke-width="0.67"/>
<line x1="509.50" x2="509.50" y1="335.8" y2="338.50" stroke="#000" stroke-opacity="0.85" stroke-width="0.67"/>
<line x1="572.00" x2="572.00" y1="335.8" y2="338.50" stroke="#000" stroke-opacity="0.85" stroke-width="0.67"/>
<line x1="634.50" x2="634.50" y1="335.8" y2="338.50" stroke="#000" stroke-opacity="0.85" stroke-width="0.67"/>
<text transform="matrix(1 0.0006 0 1 384.50 346.75)" font-size="8.95" text-anchor="middle">0</text>
<text transform="matrix(1 0.0006 0 1 447.00 346.75)" font-size="8.95" text-anchor="middle">5</text>
<text transform="matrix(1 0.0006 0 1 509.50 346.75)" font-size="8.95" text-anchor="middle">10</text>
<text transform="matrix(1 0.0006 0 1 572.00 346.75)" font-size="8.95" text-anchor="middle">15</text>
<text transform="matrix(1 0.0006 0 1 634.50 346.75)" font-size="8.95" text-anchor="middle">20</text>
<text transform="matrix(1 0.0006 0 1 534.50 359.55)" font-size="11.7" text-anchor="middle" textLength="49.66" lengthAdjust="spacing">Time [h]</text>
<text transform="matrix(1 0.0006 0 1 532.40 245.90)" font-size="11.7" text-anchor="middle" textLength="43.93" lengthAdjust="spacing">Sunday</text>
</g>
<text transform="translate(9.3,193.4) rotate(-90)" font-size="11.7" text-anchor="middle" textLength="119.35" lengthAdjust="spacing">Proportional error %</text>
<g>
<rect x="392.1" y="374.2" width="117.5" height="44.4" rx="1.7" fill="#fff" stroke="#ccc" stroke-opacity="0.6" stroke-width="0.8"/>
<line x1="395.4" x2="415.2" y1="382.1" y2="382.1" stroke="#ff0000" stroke-width="1.25"/>
<line x1="395.6" x2="415.2" y1="395.95" y2="395.95" stroke="#0000ff" stroke-width="0.62" stroke-dasharray="2.15 0.95"/>
<line x1="395.7" x2="415.2" y1="409.95" y2="409.95" stroke="#000" stroke-width="1.25" stroke-dasharray="7.7 1.9 1.2 1.9"/>
<text transform="matrix(1 0.0006 0 1 422.60 385.60)" font-size="9.3" text-anchor="start" textLength="83.92" lengthAdjust="spacing">Proportional error</text>
<text transform="matrix(1 0.0006 0 1 422.60 399.50)" font-size="9.3" text-anchor="start" textLength="31.24" lengthAdjust="spacing">± stdv</text>
<text transform="matrix(1 0.0006 0 1 422.60 413.40)" font-size="9.3" text-anchor="start" textLength="52.00" lengthAdjust="spacing">Mean error</text>
</g>
</svg>
</body></html>
